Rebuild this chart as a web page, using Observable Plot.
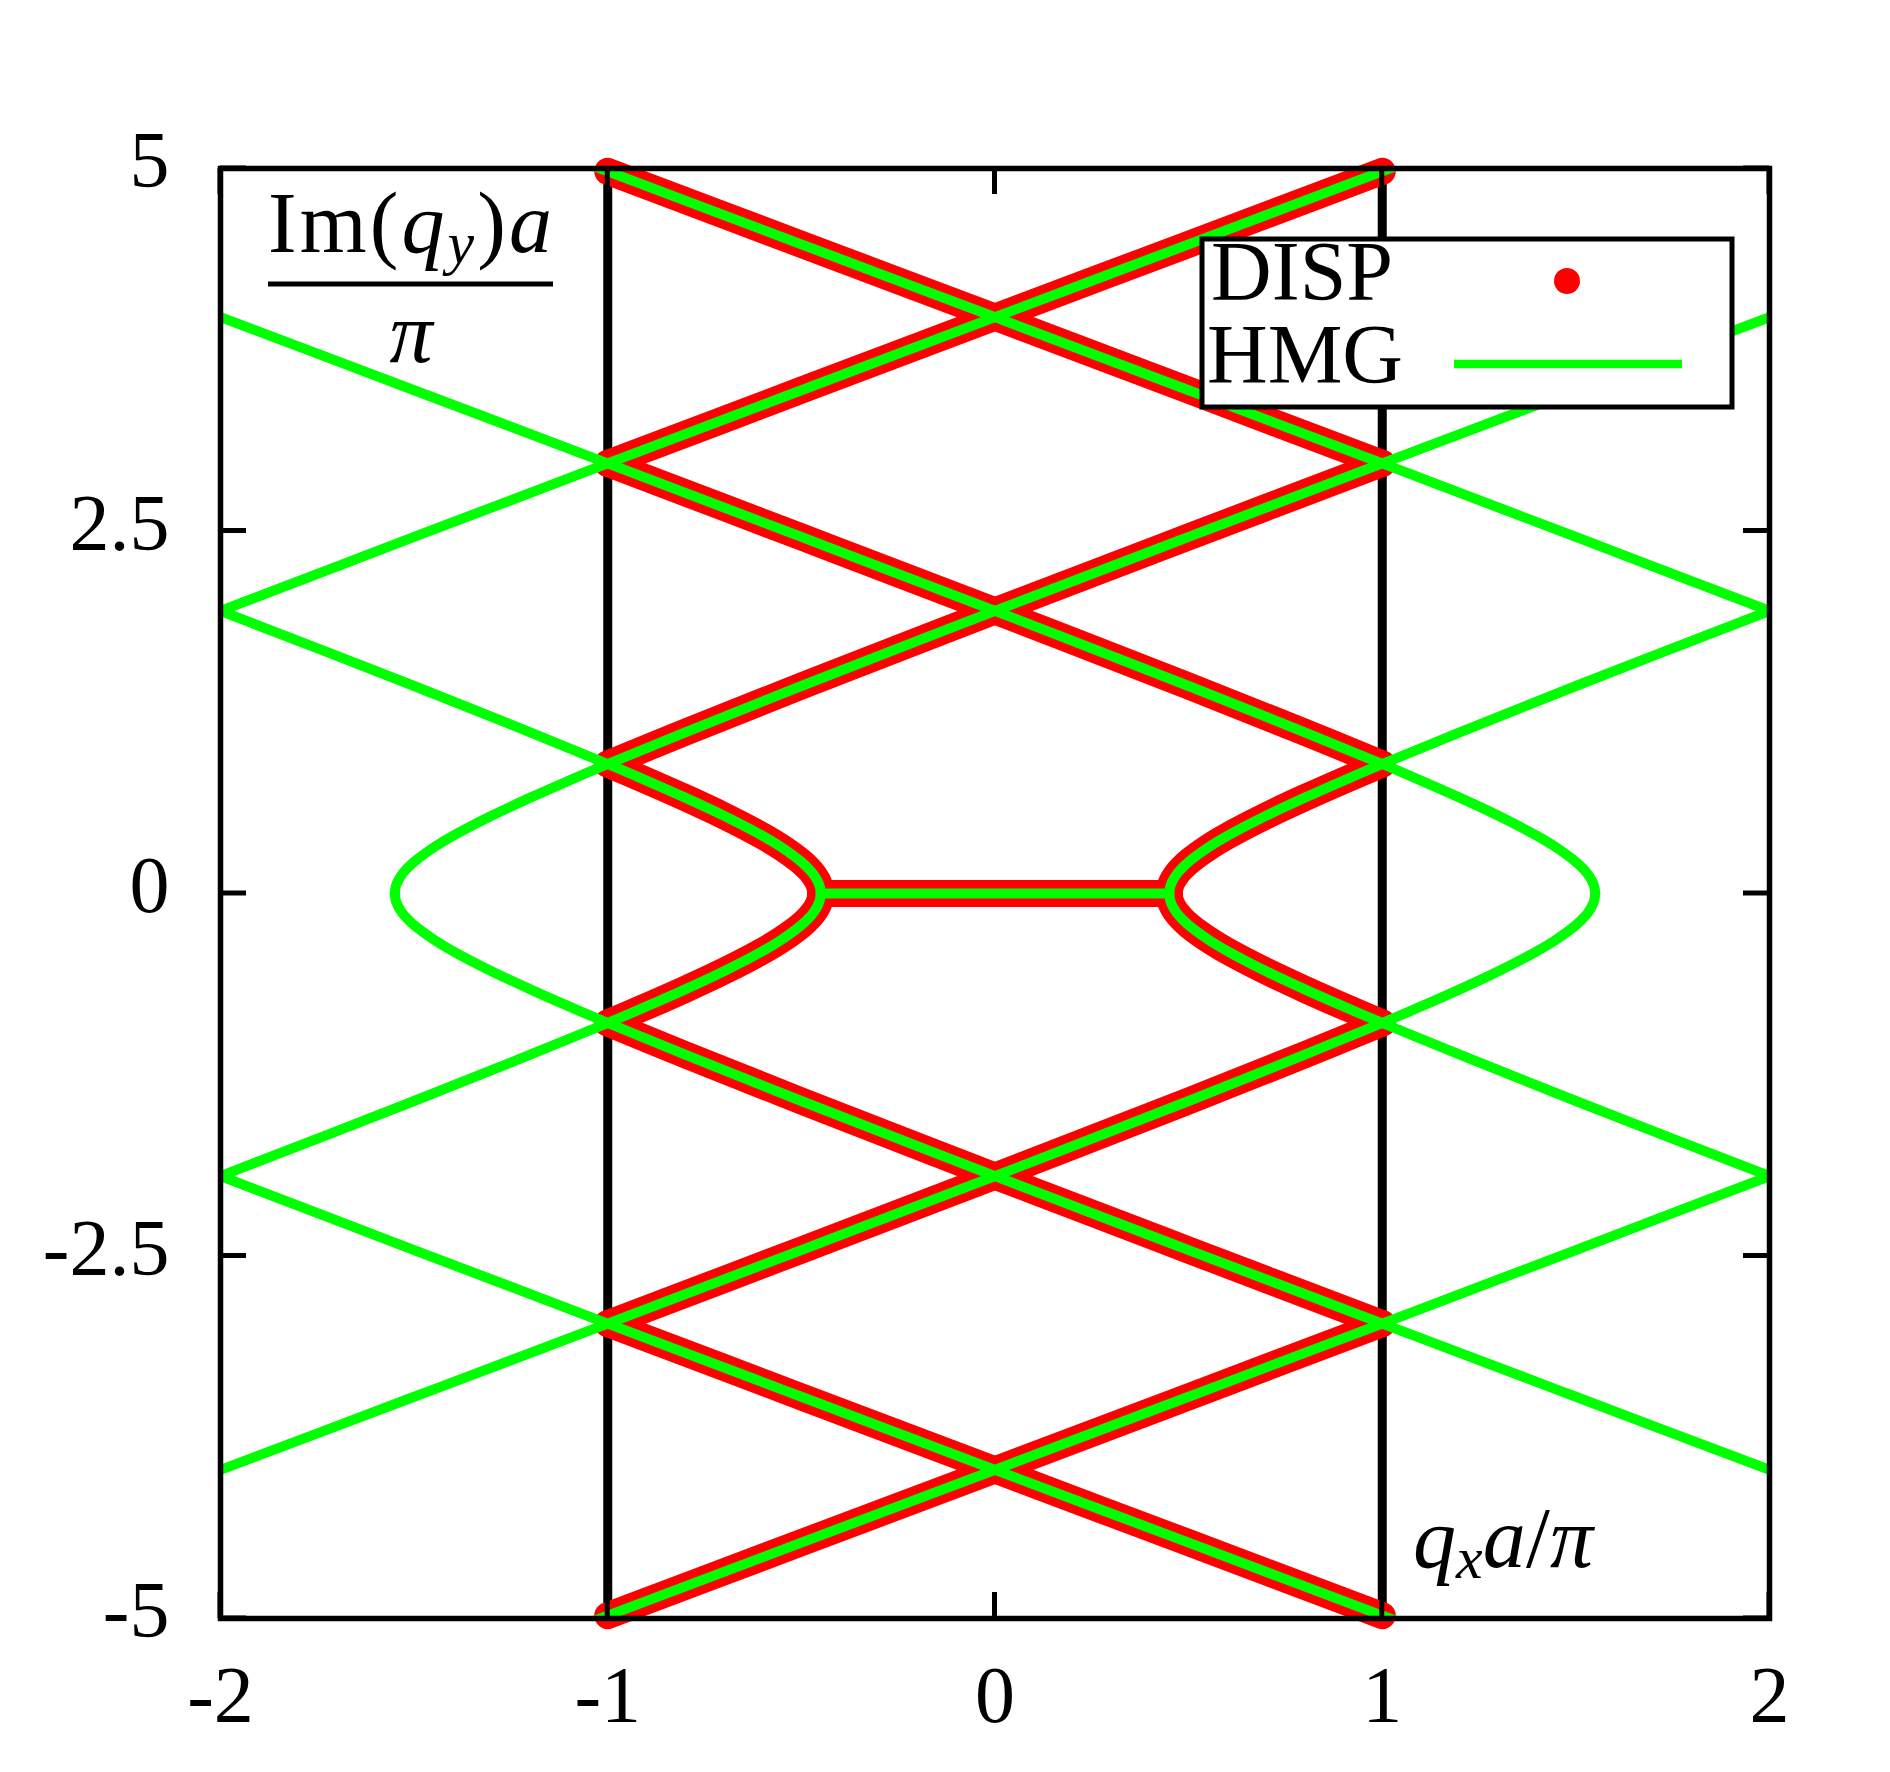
<!DOCTYPE html>
<html><head><meta charset="utf-8">
<script src="https://cdn.jsdelivr.net/npm/d3@7"></script>
<script src="https://cdn.jsdelivr.net/npm/@observablehq/plot@0.6"></script>
<style>
html,body{margin:0;padding:0;background:#fff;}
#chart{width:1890px;height:1772px;}
</style>
</head><body><div id="chart"></div>
<script>
// ---- data ----
const xTicks = [-2, -1, 0, 1, 2];
const yTicks = [-5, -2.5, 0, 2.5, 5];
// band centres (reciprocal-lattice shifts, in units of qx a/pi)
const bandCenters = [-4, -2, 0, 2, 4];
// Brillouin-zone edges (black vertical lines)
const zoneEdges = [-1, 1];
// one hyperbolic branch: distance from band centre vs Im(qy)a/pi
const branchD = [0.45, 0.452, 0.455, 0.46, 0.47, 0.48, 0.5, 0.55, 0.6, 0.7, 0.8, 0.9, 1.0, 1.2, 1.5, 2.0, 2.5, 3.0, 3.5, 4.0, 4.5, 5.0, 5.5, 6.0];
const branchY = [0, 0.042, 0.067, 0.095, 0.136, 0.167, 0.218, 0.316, 0.397, 0.536, 0.661, 0.779, 0.893, 1.112, 1.431, 1.949, 2.459, 2.966, 3.471, 3.975, 4.477, 4.980, 5.482, 5.983];
// flat part (propagating region, Im(qy)=0), shared by DISP and HMG
const flatX = [-0.45, 0.45];
const flatY = [0, 0];
// ranges of each series
const hmgRange = [-2, 2];
const dispRange = [-1, 1];

// ---- build tables ----
const eps = 1e-9;
function buildRows(range) {
  const rows = [];
  for (const c of bandCenters) for (const side of [-1, 1]) for (const sgn of [1, -1]) {
    const key = `${c}|${side}|${sgn}`;
    branchD.forEach((d, i) => {
      const x = c + side * d;
      if (x >= range[0] - eps && x <= range[1] + eps) rows.push({key, x, y: sgn * branchY[i]});
    });
  }
  flatX.forEach((x, i) => rows.push({key: "flat", x, y: flatY[i]}));
  return rows;
}
const hmgRows = buildRows(hmgRange);
const dispRows = buildRows(dispRange);

const RED = "#ff0000", GREEN = "#00ff00";
const FONT = "Liberation Serif";

const plot = Plot.plot({
  width: 1890,
  height: 1772,
  marginLeft: 220,
  marginRight: 121,
  marginTop: 168,
  marginBottom: 154,
  style: {fontFamily: FONT, fontSize: "80px", background: "white", color: "black"},
  x: {domain: [-2, 2], label: null},
  y: {domain: [-5, 5], label: null},
  marks: [
    Plot.ruleX(zoneEdges, {x: d => d, stroke: "black", strokeWidth: 9}),
    Plot.line(dispRows, {x: "x", y: "y", z: "key", stroke: RED, strokeWidth: 27,
      strokeLinecap: "round", strokeLinejoin: "round", curve: "catmull-rom"}),
    Plot.line(hmgRows, {x: "x", y: "y", z: "key", stroke: GREEN, strokeWidth: 10,
      curve: "catmull-rom", clip: true}),
    Plot.frame({stroke: "black", strokeWidth: 5.5}),
    Plot.axisX({ticks: xTicks, tickSize: 0, tickPadding: 47, fontSize: 80,
      tickFormat: d => String(d), label: null}),
    Plot.axisY({ticks: yTicks, tickSize: 0, tickPadding: 51, fontSize: 80,
      tickFormat: d => String(d), dy: -7, label: null})
  ]
});
document.getElementById("chart").appendChild(plot);

const svg = d3.select(plot);
const xs = plot.scale("x"), ys = plot.scale("y");
const X = v => xs.apply(v), Y = v => ys.apply(v);

// inward ticks on all four sides
const tg = svg.append("g").attr("stroke", "black").attr("stroke-width", 5);
const TL = 26;
for (const t of xTicks) {
  tg.append("line").attr("x1", X(t)).attr("x2", X(t)).attr("y1", Y(-5)).attr("y2", Y(-5) - TL);
  tg.append("line").attr("x1", X(t)).attr("x2", X(t)).attr("y1", Y(5)).attr("y2", Y(5) + TL);
}
for (const t of yTicks) {
  tg.append("line").attr("y1", Y(t)).attr("y2", Y(t)).attr("x1", X(-2)).attr("x2", X(-2) + TL);
  tg.append("line").attr("y1", Y(t)).attr("y2", Y(t)).attr("x1", X(2)).attr("x2", X(2) - TL);
}

// axis labels
const lab = svg.append("g").attr("font-family", FONT).attr("fill", "black").attr("text-anchor", "start");
const t1 = lab.append("text").attr("x", 268).attr("y", 252).attr("font-size", 86)
  .attr("text-anchor", "start").attr("textLength", 284).attr("lengthAdjust", "spacing");
t1.append("tspan").text("Im(");
t1.append("tspan").attr("font-style", "italic").text("q");
t1.append("tspan").attr("font-style", "italic").attr("font-size", 60).attr("dy", 11).text("y");
t1.append("tspan").attr("dy", -11).text(")");
t1.append("tspan").attr("font-style", "italic").text("a");
lab.append("line").attr("x1", 268).attr("x2", 553).attr("y1", 284).attr("y2", 284)
  .attr("stroke", "black").attr("stroke-width", 5);
lab.append("text").attr("x", 411).attr("y", 362).attr("font-size", 86)
  .attr("font-style", "italic").attr("text-anchor", "middle").text("π");

const t2 = lab.append("text").attr("x", 1413).attr("y", 1567).attr("font-size", 86)
  .attr("text-anchor", "start").attr("textLength", 180).attr("lengthAdjust", "spacing");
t2.append("tspan").attr("font-style", "italic").text("q");
t2.append("tspan").attr("font-style", "italic").attr("font-size", 60).attr("dy", 11).text("x");
t2.append("tspan").attr("font-style", "italic").attr("dy", -11).text("a");
t2.append("tspan").text("/");
t2.append("tspan").attr("font-style", "italic").text("π");

// legend
const lg = svg.append("g").attr("text-anchor", "start");
lg.append("rect").attr("x", 1202).attr("y", 239).attr("width", 530).attr("height", 168)
  .attr("fill", "white").attr("stroke", "black").attr("stroke-width", 5);
lg.append("text").attr("x", 1211).attr("y", 300).attr("font-family", FONT).attr("font-size", 84)
  .attr("text-anchor", "start").text("DISP");
lg.append("text").attr("x", 1207).attr("y", 383).attr("font-family", FONT).attr("font-size", 84)
  .attr("text-anchor", "start").text("HMG");
lg.append("circle").attr("cx", 1567).attr("cy", 281).attr("r", 13).attr("fill", RED);
lg.append("line").attr("x1", 1454).attr("x2", 1682).attr("y1", 364).attr("y2", 364)
  .attr("stroke", GREEN).attr("stroke-width", 8.5);
</script>
</body></html>
